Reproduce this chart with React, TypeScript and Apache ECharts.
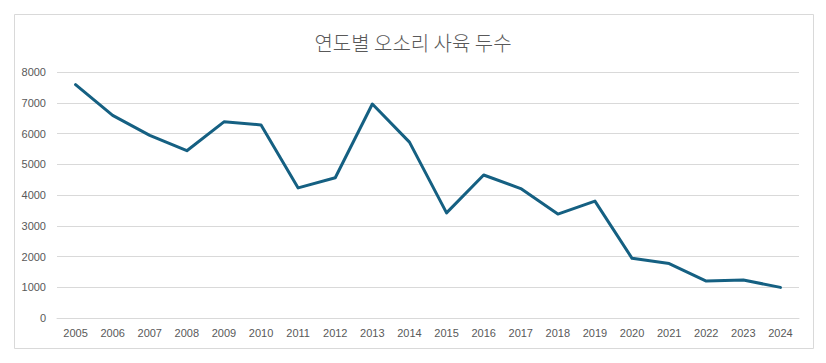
import React, { useEffect, useRef } from "react";
import * as echarts from "echarts";

const years = ["2005","2006","2007","2008","2009","2010","2011","2012","2013","2014","2015","2016","2017","2018","2019","2020","2021","2022","2023","2024"];
const headCounts = [7590, 6590, 5940, 5440, 6380, 6280, 4230, 4560, 6960, 5720, 3420, 4650, 4210, 3380, 3800, 1940, 1770, 1200, 1235, 995];
const titleText = "연도별 오소리 사육 두수";

export default function App() {
  const ref = useRef<HTMLDivElement>(null);
  useEffect(() => {
    if (!ref.current) return;
    const chart = echarts.init(ref.current, null, { renderer: "svg" });
    chart.setOption({
      animation: false,
      backgroundColor: "#ffffff",
      graphic: [
        {
          type: "rect",
          shape: { x: 14.5, y: 14.5, width: 799, height: 334 },
          style: { fill: "#ffffff", stroke: "#d9d9d9", lineWidth: 1 },
          z: -10,
          silent: true,
        },
      ],
      title: {
        text: titleText,
        left: "center",
        top: 27,
        textStyle: {
          fontFamily: "'Noto Sans CJK KR', sans-serif",
          fontSize: 20,
          fontWeight: 300,
          color: "#595959",
        },
      },
      grid: { left: 57, right: 27, top: 72, bottom: 45, containLabel: false },
      xAxis: {
        type: "category",
        data: years,
        boundaryGap: true,
        axisLine: { show: true, lineStyle: { color: "#d9d9d9", width: 1 } },
        axisTick: { show: false },
        axisLabel: {
          color: "#595959",
          fontSize: 11,
          fontFamily: "'Liberation Sans', Arial, sans-serif",
          margin: 9,
          interval: 0,
        },
      },
      yAxis: {
        type: "value",
        min: 0,
        max: 8000,
        interval: 1000,
        axisLine: { show: false },
        axisTick: { show: false },
        splitLine: { lineStyle: { color: "#d9d9d9", width: 1 } },
        axisLabel: {
          color: "#595959",
          fontSize: 11,
          fontFamily: "'Liberation Sans', Arial, sans-serif",
          margin: 11,
          formatter: (v: number) => String(v),
        },
      },
      series: [
        {
          type: "line",
          data: headCounts,
          symbol: "none",
          lineStyle: { color: "#156082", width: 3, join: "round", cap: "round" },
          itemStyle: { color: "#156082" },
        },
      ],
    });
    return () => chart.dispose();
  }, []);
  return (
    <div
      ref={ref}
      style={{ position: "fixed", left: 0, top: 0, width: 826, height: 363 }}
    />
  );
}
